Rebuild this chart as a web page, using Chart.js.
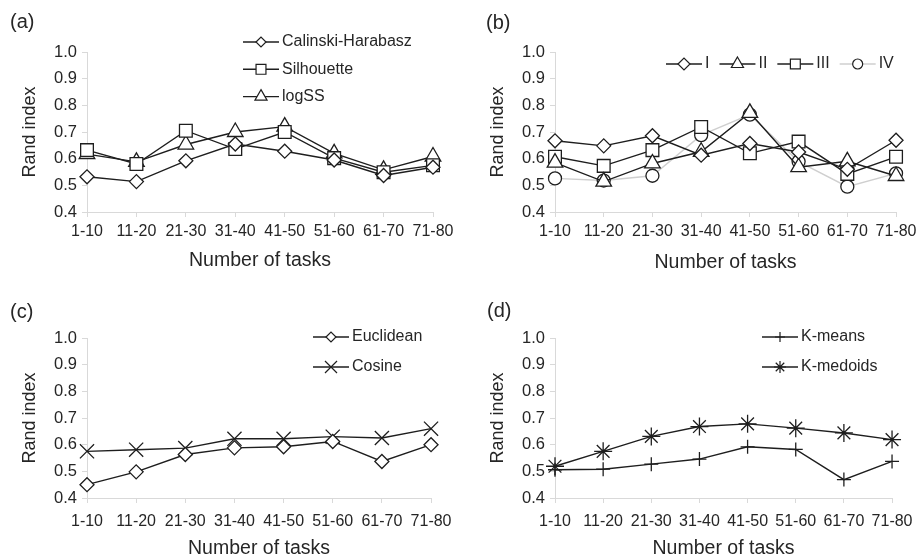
<!DOCTYPE html>
<html>
<head>
<meta charset="utf-8">
<script src="https://cdn.jsdelivr.net/npm/chart.js@4.4.1/dist/chart.umd.min.js"></script>
<style>
  body { margin: 0; background: #fff; }
  #wrap { position: relative; width: 921px; height: 560px; }
  #wrap canvas { position: absolute; }
</style>
</head>
<body>
<div id="wrap">
  <canvas id="panelA" width="460" height="280" style="left:0;top:0"></canvas>
  <canvas id="panelB" width="461" height="280" style="left:460px;top:0"></canvas>
  <canvas id="panelC" width="460" height="280" style="left:0;top:280px"></canvas>
  <canvas id="panelD" width="461" height="280" style="left:460px;top:280px"></canvas>
</div>
<script>
const categories = ["1-10", "11-20", "21-30", "31-40", "41-50", "51-60", "61-70", "71-80"];
const yMin = 0.4;
const yMax = 1.0;
const yStep = 0.1;

// (a) stopping criteria
const calinski = [0.532, 0.514, 0.592, 0.655, 0.628, 0.595, 0.537, 0.568];
const silhouette = [0.632, 0.580, 0.705, 0.636, 0.700, 0.602, 0.549, 0.575];
const logSS = [0.617, 0.588, 0.653, 0.700, 0.720, 0.620, 0.558, 0.608];

// (b) variants
const groupI = [0.667, 0.648, 0.686, 0.613, 0.657, 0.625, 0.560, 0.669];
const groupII = [0.585, 0.514, 0.582, 0.626, 0.772, 0.568, 0.590, 0.535];
const groupIII = [0.607, 0.573, 0.632, 0.719, 0.620, 0.664, 0.543, 0.607];
const groupIV = [0.526, 0.518, 0.536, 0.688, 0.765, 0.589, 0.495, 0.545];

// (c) distance
const euclidean = [0.450, 0.498, 0.563, 0.588, 0.592, 0.612, 0.537, 0.600];
const cosine = [0.575, 0.581, 0.587, 0.622, 0.622, 0.630, 0.625, 0.660];

// (d) algorithm
const kMeans = [0.506, 0.508, 0.527, 0.546, 0.592, 0.582, 0.469, 0.537];
const kMedoids = [0.519, 0.575, 0.631, 0.668, 0.678, 0.662, 0.644, 0.619];

const FONT = '"Liberation Sans", Arial, sans-serif';
const INK = "#262626";
const LINE = "#1e1e1e";
const AXIS = "#d9d9d9";

const series = (label, data, style, r, legendR, lineColor) => ({
  label,
  data,
  pointStyle: style,
  pointRadius: r,
  pointHoverRadius: r,
  legendRadius: legendR,
  borderColor: lineColor || LINE,
  borderWidth: 1.4,
  pointBorderColor: LINE,
  pointBackgroundColor: "#fff",
  pointBorderWidth: 1.3,
  tension: 0,
});

// legend with a line through the marker, plus the panel tag
const lineLegend = {
  id: "lineLegend",
  afterDraw(chart, args, opts) {
    const ctx = chart.ctx;
    ctx.save();
    ctx.fillStyle = INK;
    ctx.textBaseline = "middle";
    ctx.font = "20px " + FONT;
    ctx.fillText(opts.tag, opts.tagX, opts.tagY);

    ctx.font = "16px " + FONT;
    let x = opts.x;
    let y = opts.y;
    chart.data.datasets.forEach((ds) => {
      ctx.strokeStyle = ds.borderColor;
      ctx.lineWidth = ds.borderWidth;
      ctx.beginPath();
      ctx.moveTo(x, y);
      ctx.lineTo(x + 36, y);
      ctx.stroke();
      ctx.fillStyle = "#fff";
      ctx.strokeStyle = ds.pointBorderColor;
      ctx.lineWidth = 1.2;
      Chart.helpers.drawPoint(ctx, { pointStyle: ds.pointStyle, radius: ds.legendRadius, borderWidth: 1.2, rotation: 0 }, x + 18, y);
      ctx.fillStyle = INK;
      ctx.fillText(ds.label, x + 39, y);
      if (opts.dy) {
        y += opts.dy;
      } else {
        x += 39 + ctx.measureText(ds.label).width + 10;
      }
    });
    ctx.restore();
  },
};

function makePanel(id, datasets, cfg) {
  return new Chart(document.getElementById(id), {
    type: "line",
    data: { labels: categories, datasets },
    plugins: [lineLegend],
    options: {
      responsive: false,
      animation: false,
      devicePixelRatio: 1,
      layout: { padding: { left: 0, top: cfg.top, right: cfg.right, bottom: 0 } },
      plugins: {
        legend: { display: false },
        tooltip: { enabled: false },
        lineLegend: cfg.legend,
      },
      scales: {
        x: {
          offset: false,
          afterFit: (s) => { s.height = cfg.xHeight; },
          grid: { drawOnChartArea: false, color: AXIS, tickLength: 5 },
          border: { color: AXIS },
          ticks: { color: INK, font: { family: FONT, size: 16 }, padding: cfg.xPad, maxRotation: 0, minRotation: 0, autoSkip: false },
          title: { display: true, text: "Number of tasks", color: INK, font: { family: FONT, size: 19.5 }, padding: { top: 0, bottom: cfg.xTitlePad } },
        },
        y: {
          min: yMin,
          max: yMax,
          afterFit: (s) => { s.width = cfg.yWidth; },
          grid: { drawOnChartArea: false, color: AXIS, tickLength: 5 },
          border: { color: AXIS },
          ticks: { stepSize: yStep, color: INK, font: { family: FONT, size: 16.5 }, padding: 5, callback: (v) => Number(v).toFixed(1) },
          title: { display: true, text: "Rand index", color: INK, font: { family: FONT, size: 18 }, padding: { top: cfg.yTitlePad, bottom: 0 } },
        },
      },
    },
  });
}

makePanel("panelA", [
  series("Calinski-Harabasz", calinski, "rectRot", 7, 5),
  series("Silhouette", silhouette, "rect", 9, 7),
  series("logSS", logSS, "triangle", 9, 7),
], {
  top: 52, right: 27, xHeight: 68, yWidth: 87, xPad: 4.5, xTitlePad: 7.6, yTitlePad: 19,
  legend: { tag: "(a)", tagX: 10, tagY: 22, x: 243, y: 42, dy: 27.3 },
});

makePanel("panelB", [
  series("I", groupI, "rectRot", 7, 6),
  series("II", groupII, "triangle", 9, 7),
  series("III", groupIII, "rect", 9, 7),
  series("IV", groupIV, "circle", 6.5, 5, "#cfcfcf"),
], {
  top: 52, right: 20, xHeight: 68, yWidth: 95, xPad: 4.5, xTitlePad: 6, yTitlePad: 27,
  legend: { tag: "(b)", tagX: 26, tagY: 23, x: 206, y: 64, dy: 0 },
});

makePanel("panelC", [
  series("Euclidean", euclidean, "rectRot", 7, 5),
  series("Cosine", cosine, "crossRot", 10, 8.5),
], {
  top: 58, right: 27, xHeight: 62, yWidth: 87, xPad: 8.5, xTitlePad: 0, yTitlePad: 19,
  legend: { tag: "(c)", tagX: 10, tagY: 32, x: 313, y: 57, dy: 30 },
});

makePanel("panelD", [
  series("K-means", kMeans, "cross", 7, 5),
  series("K-medoids", kMedoids, "star", 9, 6),
], {
  top: 58, right: 20, xHeight: 62, yWidth: 95, xPad: 8.5, xTitlePad: 0, yTitlePad: 27,
  legend: { tag: "(d)", tagX: 27, tagY: 31, x: 302, y: 57, dy: 30 },
});
</script>
</body>
</html>
